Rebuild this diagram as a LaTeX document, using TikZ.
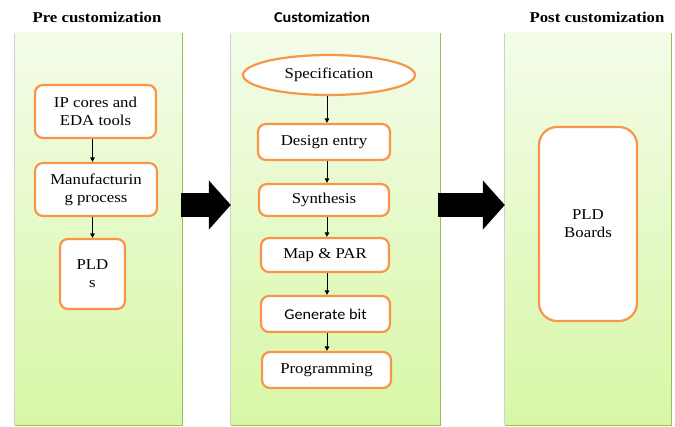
\documentclass[tikz,border=0pt]{standalone}
\usepackage{fontspec}
\setmainfont[FakeStretch=1.12]{Liberation Serif}
\newfontfamily\sansf[FakeStretch=1.08]{Carlito}
\usetikzlibrary{shapes.geometric,arrows.meta,calc}
\definecolor{boxorange}{HTML}{F79646}
\definecolor{paneltop}{HTML}{F3FCE9}
\definecolor{panelbot}{HTML}{D8F7A6}
\definecolor{panelgreen}{HTML}{9BBB59}
\definecolor{panelgray}{HTML}{D0D0D0}
\tikzset{
  panel/.style={rectangle, top color=paneltop, bottom color=panelbot, draw=none, inner sep=0pt},
  title/.style={font=\fontsize{15}{18}\selectfont\bfseries, inner sep=0pt},
  procbox/.style={rectangle, rounded corners=8pt, draw=boxorange, line width=2.2pt, fill=white,
     align=center, font=\fontsize{15}{18}\selectfont, inner sep=2pt},
  specell/.style={ellipse, draw=boxorange, line width=2.2pt, fill=white,
     font=\fontsize{15}{18}\selectfont, inner sep=0pt},
  flow/.style={draw=black, line width=0.9pt, -{Triangle[length=4.5pt,width=4.5pt]}},
  bigarrow/.style={draw=black, line width=24pt, -{Triangle[length=22pt,width=48pt]}}
}
\begin{document}
\begin{tikzpicture}[x=1pt,y=-1pt]
\useasboundingbox (0,0) rectangle (675,427);
% panels
\node[panel, minimum width=167pt, minimum height=392pt] (p1) at (98.5,229) {};
\node[panel, minimum width=209pt, minimum height=392pt] (p2) at (335.5,229) {};
\node[panel, minimum width=166pt, minimum height=392pt] (p3) at (588,229) {};
\foreach \p in {p1,p2,p3}{
  \draw[panelgray, line width=1pt] (\p.north west) -- (\p.south west);
  \draw[panelgreen, line width=1.2pt] (\p.north east) -- (\p.south east) -- (\p.south west);
}
% titles
\node[title] (t1) at (97,17) {Pre customization};
\node[title, font=\fontsize{15}{18}\selectfont\bfseries\sansf] (t2) at (322,17) {Customization};
\node[title] (t3) at (597,17) {Post customization};
% pre customization
\node[procbox, minimum width=121pt, minimum height=53pt] (ip) at (95.5,111.5) {IP cores and\\EDA tools};
\node[procbox, minimum width=122pt, minimum height=53pt] (mf) at (96,189.5) {Manufacturin\\g process};
\node[procbox, minimum width=65pt, minimum height=70pt] (pld) at (92.5,274) {PLD\\s};
\draw[flow] (ip.south -| pld.north) -- (mf.north -| pld.north);
\draw[flow] (mf.south -| pld.north) -- (pld.north);
% customization
\node[specell, minimum width=172pt, minimum height=40pt] (spec) at (329,75) {Specification};
\node[procbox, minimum width=132pt, minimum height=36pt] (de) at (324,142) {Design entry};
\node[procbox, minimum width=130pt, minimum height=32pt] (syn) at (324,200) {Synthesis};
\node[procbox, minimum width=128pt, minimum height=34pt] (map) at (325,255) {Map \& PAR};
\node[procbox, minimum width=129pt, minimum height=36pt, font=\fontsize{15}{18}\selectfont\sansf] (gen) at (325.5,314) {Generate bit};
\node[procbox, minimum width=129pt, minimum height=36pt] (prog) at (326.5,370) {Programming};
\coordinate (cx) at (327,0);
\draw[flow] (spec.south -| cx) -- (de.north -| cx);
\draw[flow] (de.south -| cx) -- (syn.north -| cx);
\draw[flow] (syn.south -| cx) -- (map.north -| cx);
\draw[flow] (map.south -| cx) -- (gen.north -| cx);
\draw[flow] (gen.south -| cx) -- (prog.north -| cx);
% post customization
\node[procbox, rounded corners=18pt, minimum width=98pt, minimum height=194pt] (brd) at (588,224) {PLD\\Boards};
% big arrows
\coordinate (ay) at (0,205);
\draw[bigarrow] ($(p1.east |- ay)+(-1,0)$) -- (p2.west |- ay);
\draw[bigarrow] ($(p2.east |- ay)+(-2,0)$) -- (p3.west |- ay);
\end{tikzpicture}
\end{document}
